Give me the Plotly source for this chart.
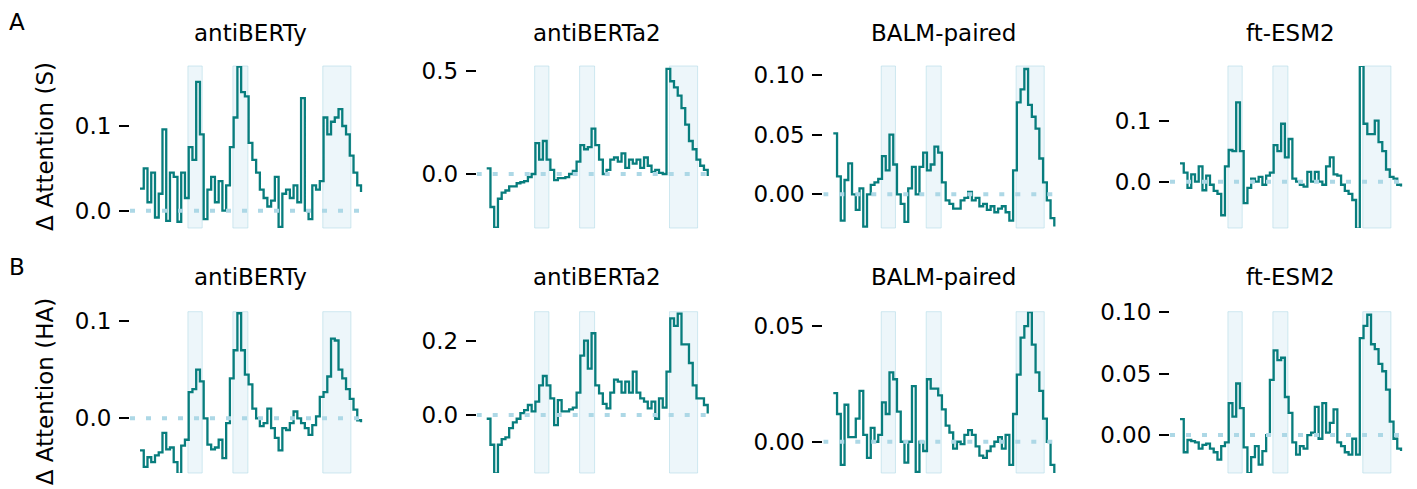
import plotly.graph_objects as go

# ---------------- data ----------------
models = ["antiBERTy", "antiBERTa2", "BALM-paired", "ft-ESM2"]
row_titles = ["Δ Attention (S)", "Δ Attention (HA)"]
panel_letters = ["A", "B"]
positions = list(range(60))
cdr_regions = [(12.8, 16.6), (24.8, 28.8), (48.8, 56.3)]

s_antiberty = [0.026, 0.05, 0.01, 0.045, -0.008, 0.02, 0.096, -0.012, 0.045, 0.04,
               -0.013, 0.045, 0.015, 0.075, 0.06, 0.152, 0.09, -0.01, 0.025, 0.04,
               0.01, 0.035, 0.0, 0.03, 0.075, 0.11, 0.17, 0.14, 0.135, 0.08,
               0.06, 0.045, 0.025, 0.015, 0.005, 0.012, 0.04, -0.019, 0.02, 0.025,
               0.015, 0.03, 0.01, 0.133, 0.0, -0.01, 0.03, 0.025, 0.035, 0.11,
               0.09, 0.105, 0.11, 0.12, 0.1, 0.09, 0.065, 0.045, 0.03, 0.022]
s_antiberta2 = [0.027, -0.16, -0.26, -0.12, -0.09, -0.08, -0.06, -0.06, -0.045, -0.04,
                -0.035, -0.015, 0.0, 0.15, 0.07, 0.16, 0.07, 0.02, -0.03, -0.02,
                -0.02, -0.015, 0.0, 0.015, 0.06, 0.14, 0.12, 0.13, 0.22, 0.14,
                0.07, 0.0, 0.02, 0.07, 0.08, 0.06, 0.1, 0.03, 0.07, 0.05,
                0.07, 0.03, 0.08, 0.04, 0.01, 0.02, 0.005, 0.0, 0.51, 0.45,
                0.42, 0.38, 0.32, 0.24, 0.16, 0.12, 0.07, 0.04, 0.02, -0.01]
s_balm = [0.051, 0.015, -0.022, 0.012, 0.026, 0.0, -0.013, 0.005, -0.027, 0.0,
          0.008, 0.01, 0.013, 0.032, 0.02, 0.05, 0.025, 0.0, -0.008, -0.023,
          0.005, 0.023, 0.0, 0.023, 0.035, 0.02, 0.025, 0.04, 0.035, 0.01,
          -0.005, -0.008, -0.012, -0.012, -0.005, -0.003, 0.002, -0.005, -0.003, -0.01,
          -0.008, -0.013, -0.01, -0.015, -0.012, -0.01, -0.015, -0.022, 0.02, 0.077,
          0.088, 0.105, 0.075, 0.065, 0.055, 0.03, 0.01, -0.005, -0.02, -0.027]
s_esm2 = [0.03, 0.015, -0.01, 0.012, 0.0, 0.025, -0.014, 0.01, -0.005, -0.015,
          -0.02, -0.055, 0.025, 0.052, 0.05, 0.13, 0.05, -0.035, -0.01, 0.005,
          0.0, 0.008, -0.005, 0.01, 0.015, 0.06, 0.05, 0.095, 0.04, 0.07,
          0.005, 0.0, -0.005, -0.008, 0.016, 0.0, 0.016, 0.0, -0.005, 0.025,
          0.04, 0.012, 0.01, -0.005, -0.015, -0.02, -0.03, -0.077, 0.19, 0.095,
          0.078, 0.078, 0.1, 0.065, 0.05, 0.02, 0.008, 0.005, -0.005, -0.008]

ha_antiberty = [-0.033, -0.05, -0.04, -0.045, -0.038, -0.035, -0.015, -0.032, -0.03, -0.045,
                -0.057, -0.028, -0.022, 0.027, 0.03, 0.05, 0.038, 0.0, -0.027, -0.032,
                -0.03, -0.022, -0.041, -0.005, 0.041, 0.07, 0.108, 0.07, 0.045, 0.035,
                0.01, 0.0, -0.008, -0.005, 0.01, -0.01, -0.02, -0.033, -0.01, -0.012,
                -0.005, 0.007, 0.0, -0.005, -0.01, -0.017, -0.007, 0.002, 0.022, 0.027,
                0.043, 0.082, 0.08, 0.05, 0.041, 0.03, 0.02, 0.009, -0.002, -0.004]
ha_antiberta2 = [-0.01, -0.08, -0.157, -0.08, -0.065, -0.06, -0.035, -0.02, -0.01, 0.005,
                 0.013, 0.027, 0.01, 0.036, 0.08, 0.105, 0.08, 0.045, -0.027, 0.04,
                 0.01, 0.01, 0.015, 0.02, 0.06, 0.16, 0.2, 0.125, 0.22, 0.08,
                 0.058, 0.03, 0.018, 0.06, 0.095, 0.09, 0.06, 0.09, 0.06, 0.117,
                 0.06, 0.045, 0.036, 0.018, 0.036, -0.01, 0.045, 0.02, 0.117, 0.26,
                 0.24, 0.273, 0.19, 0.19, 0.14, 0.08, 0.045, 0.045, 0.027, 0.004]
ha_balm = [0.021, 0.012, -0.01, 0.016, 0.002, 0.002, 0.01, 0.022, 0.003, -0.007,
           0.006, 0.0, 0.003, 0.017, 0.012, 0.03, 0.027, 0.013, 0.0, -0.009,
           0.0, 0.024, -0.013, 0.0, -0.004, 0.027, 0.023, 0.023, 0.02, 0.014,
           0.007, 0.004, -0.003, 0.0, -0.001, 0.003, 0.005, 0.003, -0.002, -0.006,
           -0.007, -0.004, -0.002, 0.0, 0.002, -0.003, 0.003, -0.01, 0.012, 0.029,
           0.045, 0.05, 0.056, 0.042, 0.03, 0.022, 0.01, 0.0, -0.01, -0.0135]
ha_esm2 = [0.013, -0.014, -0.004, -0.005, -0.006, -0.011, -0.008, -0.007, -0.011, -0.014,
           -0.02, -0.009, -0.006, 0.026, 0.015, 0.042, 0.022, -0.01, -0.031, -0.018,
           -0.009, -0.024, -0.013, 0.0, 0.045, 0.069, 0.061, 0.063, 0.031, 0.018,
           -0.006, -0.016, -0.009, -0.011, 0.0, 0.002, 0.023, -0.003, 0.026, 0.002,
           0.01, 0.021, -0.006, -0.009, -0.014, -0.016, -0.003, -0.016, 0.079, 0.089,
           0.098, 0.074, 0.07, 0.058, 0.052, 0.037, 0.011, -0.003, -0.011, -0.013]

series = [[s_antiberty, s_antiberta2, s_balm, s_esm2],
          [ha_antiberty, ha_antiberta2, ha_balm, ha_esm2]]

tick_vals = [[[0.0, 0.1], [0.0, 0.5], [0.0, 0.05, 0.10], [0.0, 0.1]],
             [[0.0, 0.1], [0.0, 0.2], [0.0, 0.05], [0.0, 0.05, 0.10]]]
tick_text = [[["0.0", "0.1"], ["0.0", "0.5"], ["0.00", "0.05", "0.10"], ["0.0", "0.1"]],
             [["0.0", "0.1"], ["0.0", "0.2"], ["0.00", "0.05"], ["0.00", "0.05", "0.10"]]]

# ---------------- layout settings ----------------
W, H = 1417, 489
FONT = "DejaVu Sans"
FS = 23
LINE_COLOR = "#087d7d"
ZERO_COLOR = "#add8e6"
SPAN_FILL = "rgba(173,216,230,0.22)"
SPAN_EDGE = "rgba(173,216,230,0.55)"

x_domains_px = [(130, 370), (476.7, 716.7), (823.3, 1063.3), (1170, 1410)]
y_domains_px = [(66, 228), (311.7, 473)]
y_ranges = [[(-0.0204, 0.1708), (-0.262, 0.524), (-0.0282, 0.1075), (-0.0759, 0.1897)],
            [(-0.0562, 0.1096), (-0.156, 0.278), (-0.0135, 0.0562), (-0.0309, 0.1005)]]
x_range = (-2.67, 61.4)
title_y_px = [33, 277]

fig = go.Figure()
layout = dict(
    width=W, height=H, margin=dict(l=0, r=0, t=0, b=0, pad=0, autoexpand=False),
    paper_bgcolor="white", plot_bgcolor="white", showlegend=False,
    font=dict(family=FONT, size=FS, color="black"),
)
shapes = []
annotations = []

k = 0
for r in range(2):
    for c in range(4):
        k += 1
        xa = "x" if k == 1 else f"x{k}"
        ya = "y" if k == 1 else f"y{k}"
        xd = (x_domains_px[c][0] / W, x_domains_px[c][1] / W)
        yd = (1 - y_domains_px[r][1] / H, 1 - y_domains_px[r][0] / H)
        layout["xaxis" if k == 1 else f"xaxis{k}"] = dict(
            domain=xd, range=x_range, visible=False, anchor=ya, automargin=False)
        layout["yaxis" if k == 1 else f"yaxis{k}"] = dict(
            domain=yd, range=y_ranges[r][c], anchor=xa, automargin=False,
            showgrid=False, zeroline=False, showline=False,
            tickmode="array", tickvals=tick_vals[r][c], ticktext=tick_text[r][c],
            ticks="outside", ticklen=10, tickwidth=1.8, tickcolor="black",
            ticklabelstandoff=3,
            tickfont=dict(family=FONT, size=FS, color="black"))
        for (a, b) in cdr_regions:
            shapes.append(dict(type="rect", xref=xa, yref=f"{ya} domain",
                               x0=a, x1=b, y0=0, y1=1, fillcolor=SPAN_FILL,
                               line=dict(color=SPAN_EDGE, width=1), layer="below"))
        fig.add_trace(go.Scatter(x=positions, y=series[r][c], mode="lines",
                                 line=dict(color=LINE_COLOR, width=2.3, shape="hv"),
                                 xaxis=xa, yaxis=ya, hoverinfo="skip"))
        fig.add_trace(go.Scatter(x=[x_range[0], x_range[1]], y=[0, 0], mode="lines",
                                 line=dict(color=ZERO_COLOR, width=4, dash="5px,11px"),
                                 xaxis=xa, yaxis=ya, hoverinfo="skip"))
        annotations.append(dict(text=models[c], xref="paper", yref="paper",
                                x=(xd[0] + xd[1]) / 2, y=1 - title_y_px[r] / H,
                                xanchor="center", yanchor="middle", showarrow=False,
                                font=dict(family=FONT, size=FS, color="black")))
    yc = 1 - (y_domains_px[r][0] + y_domains_px[r][1]) / 2 / H
    annotations.append(dict(text=row_titles[r], xref="paper", yref="paper",
                            x=45 / W, y=yc, textangle=-90, xanchor="center",
                            yanchor="middle", showarrow=False,
                            font=dict(family=FONT, size=FS, color="black")))
    annotations.append(dict(text=panel_letters[r], xref="paper", yref="paper",
                            x=17 / W, y=1 - (22 + 245 * r) / H, xanchor="center",
                            yanchor="middle", showarrow=False,
                            font=dict(family=FONT, size=FS, color="black")))

layout["shapes"] = shapes
layout["annotations"] = annotations
fig.update_layout(**layout)

fig.write_html("out.html", config={"displayModeBar": False},
               post_script="document.body.style.margin='0';")
